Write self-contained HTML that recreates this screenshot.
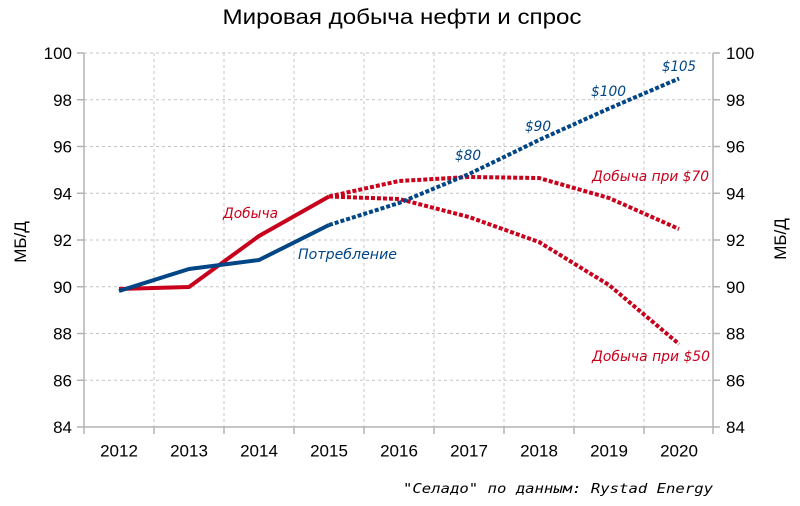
<!DOCTYPE html>
<html><head><meta charset="utf-8"><style>
html,body{margin:0;padding:0;background:#fff;}
svg{display:block;}
</style></head><body>
<svg width="800" height="506" viewBox="0 0 800 506" xmlns="http://www.w3.org/2000/svg">
<rect width="800" height="506" fill="#fff"/>
<text x="402" y="24" text-anchor="middle" font-family="Liberation Sans, sans-serif" font-size="21" fill="#000" textLength="359" lengthAdjust="spacingAndGlyphs">Мировая добыча нефти и спрос</text>
<g stroke="#c4c4c4" stroke-width="1" stroke-dasharray="3 3" fill="none">
<line x1="84" y1="53" x2="713" y2="53"/>
<line x1="84" y1="99.75" x2="713" y2="99.75"/>
<line x1="84" y1="146.5" x2="713" y2="146.5"/>
<line x1="84" y1="193.25" x2="713" y2="193.25"/>
<line x1="84" y1="240" x2="713" y2="240"/>
<line x1="84" y1="286.75" x2="713" y2="286.75"/>
<line x1="84" y1="333.5" x2="713" y2="333.5"/>
<line x1="84" y1="380.25" x2="713" y2="380.25"/>
<line x1="154" y1="53" x2="154" y2="427"/>
<line x1="224" y1="53" x2="224" y2="427"/>
<line x1="294" y1="53" x2="294" y2="427"/>
<line x1="364" y1="53" x2="364" y2="427"/>
<line x1="434" y1="53" x2="434" y2="427"/>
<line x1="504" y1="53" x2="504" y2="427"/>
<line x1="574" y1="53" x2="574" y2="427"/>
<line x1="644" y1="53" x2="644" y2="427"/>
</g>
<g stroke="#b3b3b3" stroke-width="1.5" fill="none">
<line x1="84" y1="53" x2="84" y2="434"/>
<line x1="713" y1="53" x2="713" y2="434"/>
<line x1="77" y1="427" x2="720" y2="427"/>
<line x1="77" y1="53" x2="84" y2="53"/>
<line x1="77" y1="99.75" x2="84" y2="99.75"/>
<line x1="77" y1="146.5" x2="84" y2="146.5"/>
<line x1="77" y1="193.25" x2="84" y2="193.25"/>
<line x1="77" y1="240" x2="84" y2="240"/>
<line x1="77" y1="286.75" x2="84" y2="286.75"/>
<line x1="77" y1="333.5" x2="84" y2="333.5"/>
<line x1="77" y1="380.25" x2="84" y2="380.25"/>
<line x1="713" y1="53" x2="720" y2="53"/>
<line x1="713" y1="99.75" x2="720" y2="99.75"/>
<line x1="713" y1="146.5" x2="720" y2="146.5"/>
<line x1="713" y1="193.25" x2="720" y2="193.25"/>
<line x1="713" y1="240" x2="720" y2="240"/>
<line x1="713" y1="286.75" x2="720" y2="286.75"/>
<line x1="713" y1="333.5" x2="720" y2="333.5"/>
<line x1="713" y1="380.25" x2="720" y2="380.25"/>
<line x1="154" y1="427" x2="154" y2="434"/>
<line x1="224" y1="427" x2="224" y2="434"/>
<line x1="294" y1="427" x2="294" y2="434"/>
<line x1="364" y1="427" x2="364" y2="434"/>
<line x1="434" y1="427" x2="434" y2="434"/>
<line x1="504" y1="427" x2="504" y2="434"/>
<line x1="574" y1="427" x2="574" y2="434"/>
<line x1="644" y1="427" x2="644" y2="434"/>
</g>
<g font-family="Liberation Sans, sans-serif" font-size="17" fill="#000" text-anchor="end">
<text x="72" y="59">100</text>
<text x="72" y="105.75">98</text>
<text x="72" y="152.5">96</text>
<text x="72" y="199.25">94</text>
<text x="72" y="246">92</text>
<text x="72" y="292.75">90</text>
<text x="72" y="339.5">88</text>
<text x="72" y="386.25">86</text>
<text x="72" y="433">84</text>
</g>
<g font-family="Liberation Sans, sans-serif" font-size="17" fill="#000" text-anchor="start">
<text x="726" y="59">100</text>
<text x="726" y="105.75">98</text>
<text x="726" y="152.5">96</text>
<text x="726" y="199.25">94</text>
<text x="726" y="246">92</text>
<text x="726" y="292.75">90</text>
<text x="726" y="339.5">88</text>
<text x="726" y="386.25">86</text>
<text x="726" y="433">84</text>
</g>
<g font-family="Liberation Sans, sans-serif" font-size="17" fill="#000" text-anchor="middle">
<text x="119" y="456.5">2012</text>
<text x="189" y="456.5">2013</text>
<text x="259" y="456.5">2014</text>
<text x="329" y="456.5">2015</text>
<text x="399" y="456.5">2016</text>
<text x="469" y="456.5">2017</text>
<text x="539" y="456.5">2018</text>
<text x="609" y="456.5">2019</text>
<text x="679" y="456.5">2020</text>
</g>
<text transform="translate(26,242) rotate(-90)" text-anchor="middle" font-family="Liberation Sans, sans-serif" font-size="17" fill="#000">МБ/Д</text>
<text transform="translate(786,239) rotate(-90)" text-anchor="middle" font-family="Liberation Sans, sans-serif" font-size="17" fill="#000">МБ/Д</text>
<g fill="none" stroke-linejoin="round">
<polyline points="329,196.5 399,181 469,177 539,178 609,198 679,229" stroke="#c8001c" stroke-width="4" stroke-dasharray="4 2"/>
<polyline points="329,196.5 399,199 469,217 539,242 609,285 679,344" stroke="#c8001c" stroke-width="4" stroke-dasharray="4 2"/>
<polyline points="119,289 189,287 259,236 329,196.5" stroke="#c8001c" stroke-width="4"/>
<polyline points="329,225 399,203 469,174 539,140 609,108.5 679,78.5" stroke="#004586" stroke-width="4" stroke-dasharray="4 2"/>
<polyline points="119,291 189,269 259,260 329,225" stroke="#004586" stroke-width="4"/>
</g>
<g font-family="DejaVu Sans, sans-serif" font-style="italic" font-size="14">
<text x="223" y="218" fill="#c8001c" textLength="55" lengthAdjust="spacingAndGlyphs">Добыча</text>
<text x="298" y="259" fill="#004586" textLength="99" lengthAdjust="spacingAndGlyphs">Потребление</text>
<text x="455" y="160" fill="#004586" textLength="26" lengthAdjust="spacingAndGlyphs">$80</text>
<text x="525" y="131" fill="#004586" textLength="26" lengthAdjust="spacingAndGlyphs">$90</text>
<text x="591" y="96" fill="#004586" textLength="35" lengthAdjust="spacingAndGlyphs">$100</text>
<text x="662" y="71" fill="#004586" textLength="34" lengthAdjust="spacingAndGlyphs">$105</text>
<text x="592" y="181" fill="#c8001c" textLength="117" lengthAdjust="spacingAndGlyphs">Добыча при $70</text>
<text x="592" y="361" fill="#c8001c" textLength="118" lengthAdjust="spacingAndGlyphs">Добыча при $50</text>
</g>
<text x="403" y="493" font-family="DejaVu Sans Mono, Liberation Mono, monospace" font-style="italic" font-size="13" fill="#000" textLength="310" lengthAdjust="spacingAndGlyphs">"Селадо" по данным: Rystad Energy</text>
</svg>
</body></html>
